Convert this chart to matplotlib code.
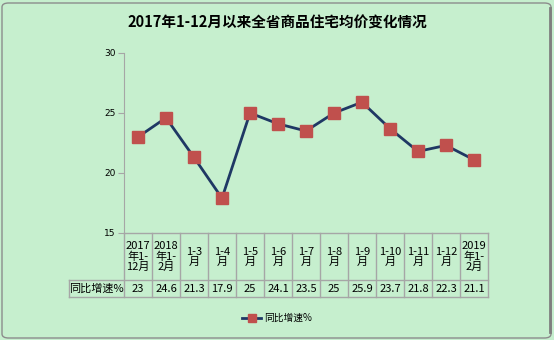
import matplotlib
matplotlib.use("Agg")
import matplotlib.pyplot as plt
from matplotlib.patches import FancyBboxPatch
from matplotlib.lines import Line2D

plt.rcParams['font.family'] = ['Noto Sans CJK SC', 'DejaVu Sans']

categories = ["2017\n年1-\n12月", "2018\n年1-\n2月", "1-3\n月", "1-4\n月", "1-5\n月", "1-6\n月",
              "1-7\n月", "1-8\n月", "1-9\n月", "1-10\n月", "1-11\n月", "1-12\n月", "2019\n年1-\n2月"]
values = [23, 24.6, 21.3, 17.9, 25, 24.1, 23.5, 25, 25.9, 23.7, 21.8, 22.3, 21.1]
value_labels = ["23", "24.6", "21.3", "17.9", "25", "24.1", "23.5", "25", "25.9", "23.7", "21.8", "22.3", "21.1"]
series_name = "同比增速%"
title = "2017年1-12月以来全省商品住宅均价变化情况"
yticks = [15, 20, 25, 30]

BG = "#C6EFCE"
LINE = "#1F3864"
MARK = "#C0504D"
GRID = "#A6A6A6"

W, H = 554, 340
fig = plt.figure(figsize=(W / 100, H / 100), dpi=100)
fig.patch.set_facecolor(BG)

# figure border
border = FancyBboxPatch((2 / W, 2 / H), (W - 5) / W, (H - 5) / H,
                        boxstyle="round,pad=0,rounding_size=0.012",
                        transform=fig.transFigure, facecolor="none",
                        edgecolor="#8C8C8C", linewidth=1.0)
fig.patches.append(border)
fig.add_artist(Line2D([550 / W, 550 / W], [8 / H, 1 - 8 / H], transform=fig.transFigure,
                      color="#7F7F7F", linewidth=2))

left, right, top, bottom = 124, 488, 53, 233
ax = fig.add_axes([left / W, 1 - bottom / H, (right - left) / W, (bottom - top) / H])
ax.set_facecolor(BG)
n = len(values)
x = list(range(n))
ax.plot(x, values, color=LINE, linewidth=2.0, marker="s", markersize=8,
        markerfacecolor=MARK, markeredgecolor=MARK, zorder=3, label=series_name)
ax.set_xlim(-0.5, n - 0.5)
ax.set_ylim(15, 30)
ax.set_yticks(yticks)
ax.set_yticklabels([str(t) for t in yticks], fontsize=6.5, family="DejaVu Sans")
ax.set_xticks([])
for s in ["top", "right", "bottom"]:
    ax.spines[s].set_visible(False)
ax.spines["left"].set_color(GRID)
ax.tick_params(axis="y", length=4, color=GRID, pad=2)

# table
tr = ax.get_xaxis_transform()
ppu = (bottom - top)
def yf(py):
    return (bottom - py) / ppu

y_top = yf(233)
y_mid = yf(280)
y_bot = yf(297)
x_lab = -0.5 - (124 - 69) / 28.0

for i in range(n + 1):
    xi = i - 0.5
    ax.plot([xi, xi], [y_top, y_bot], transform=tr, color=GRID, lw=1, clip_on=False)
ax.plot([x_lab, x_lab], [y_mid, y_bot], transform=tr, color=GRID, lw=1, clip_on=False)
ax.plot([-0.5, n - 0.5], [y_top, y_top], transform=tr, color=GRID, lw=1, clip_on=False)
ax.plot([x_lab, n - 0.5], [y_mid, y_mid], transform=tr, color=GRID, lw=1, clip_on=False)
ax.plot([x_lab, n - 0.5], [y_bot, y_bot], transform=tr, color=GRID, lw=1, clip_on=False)

for i in range(n):
    ax.text(i, (y_top + y_mid) / 2, categories[i], transform=tr, ha="center", va="center",
            fontsize=8, linespacing=0.98, color="#000000")
    ax.text(i, (y_mid + y_bot) / 2, value_labels[i], transform=tr, ha="center", va="center",
            fontsize=8, color="#000000")
ax.text((x_lab - 0.5) / 2, (y_mid + y_bot) / 2, series_name, transform=tr, ha="center",
        va="center", fontsize=8, color="#000000")

# title
fig.text(0.5, 1 - 23 / H, title, ha="center", va="center", fontsize=10.5,
         fontweight="bold", color="#000000")

# legend
leg = fig.legend(handles=[Line2D([0], [0], color=LINE, lw=2.0, marker="s", markersize=6,
                                 markerfacecolor=MARK, markeredgecolor=MARK)],
                 labels=[series_name], loc="center", bbox_to_anchor=(0.5, 1 - 318 / H),
                 frameon=False, fontsize=7, handlelength=2.0, handletextpad=0.3)

fig.savefig("out.png", dpi=100, facecolor=BG)
